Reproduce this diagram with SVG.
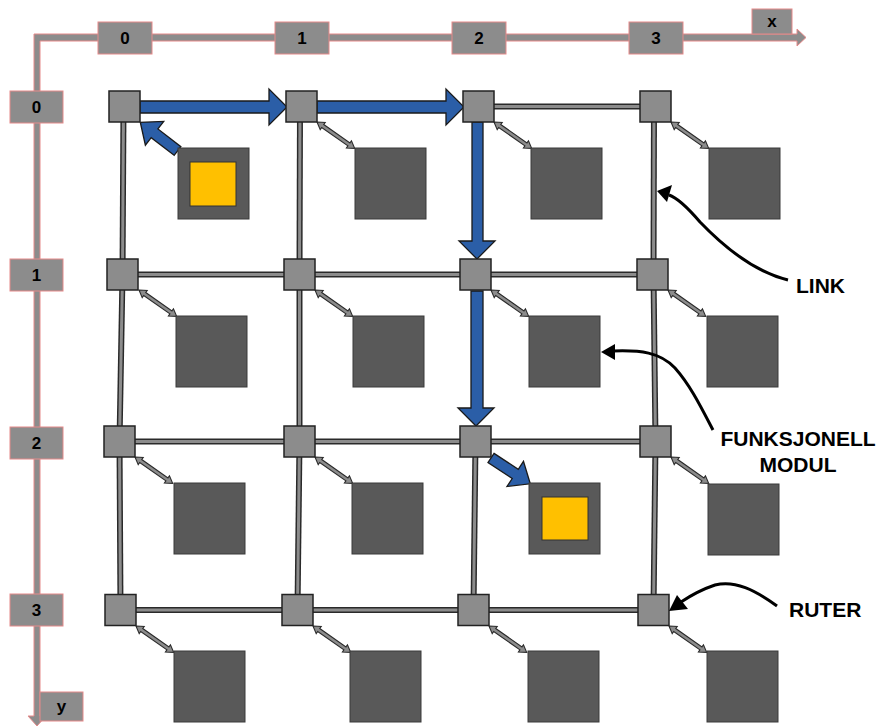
<svg xmlns="http://www.w3.org/2000/svg" xmlns:xlink="http://www.w3.org/1999/xlink" width="881" height="726" viewBox="0 0 881 726">
<style>
.axis{fill:#8c8c8c;stroke:#e58a8a;stroke-width:1}
.albl{font-family:"Liberation Sans",Arial,sans-serif;font-weight:bold;font-size:17px;fill:#000;text-anchor:middle}
.router{fill:#8c8c8c;stroke:#222;stroke-width:1.5}
.module{fill:#595959;stroke:#3a3a3a;stroke-width:1}
.yellow{fill:#ffc000;stroke:#333;stroke-width:1}
.lo{stroke:#2a2a2a;stroke-width:6;fill:none}
.li{stroke:#8c8c8c;stroke-width:3;fill:none}
.blue{fill:#2b5ea7;stroke:#1a1a1a;stroke-width:1.3;stroke-linejoin:miter}
.ann{fill:none;stroke:#000;stroke-width:3}
.annh{fill:#000}
.note{font-family:"Liberation Sans",Arial,sans-serif;font-weight:bold;font-size:21px;fill:#000}
</style>
<defs>
<g id="dbl"><polygon transform="rotate(35)" points="0,0 7,-4.4 7,-1.8 39,-1.8 39,-4.4 46,0 39,4.4 39,1.8 7,1.8 7,4.4" fill="#8c8c8c" stroke="#2a2a2a" stroke-width="1.1"/></g>
<polygon id="barrow" points="0,-5.5 29,-5.5 29,-15 47,0 29,15 29,5.5 0,5.5"/>
</defs>
<rect width="881" height="726" fill="#fff"/>

<g id="axes">
<polygon class="axis" points="34,34 797,34 797,29 806,37.5 797,46 797,41 40,41 40,716 46,716 37,726 28,716 34,716"/>
<rect class="axis" x="98" y="22" width="54" height="32"/><text class="albl" x="125" y="44">0</text>
<rect class="axis" x="275" y="22" width="54" height="32"/><text class="albl" x="302" y="44">1</text>
<rect class="axis" x="452" y="22" width="54" height="32"/><text class="albl" x="479" y="44">2</text>
<rect class="axis" x="629" y="22" width="54" height="32"/><text class="albl" x="656" y="44">3</text>
<rect class="axis" x="752" y="9" width="40" height="25"/><text class="albl" x="772" y="27">x</text>
<rect class="axis" x="10" y="91" width="53" height="32"/><text class="albl" x="36.5" y="113">0</text>
<rect class="axis" x="10" y="259" width="53" height="32"/><text class="albl" x="36.5" y="281">1</text>
<rect class="axis" x="10" y="427" width="53" height="32"/><text class="albl" x="36.5" y="449">2</text>
<rect class="axis" x="10" y="594" width="53" height="32"/><text class="albl" x="36.5" y="616">3</text>
<rect class="axis" x="40" y="692" width="43" height="29"/><text class="albl" x="61.5" y="712">y</text>
</g>

<g id="connectors">
<g class="lo">
<line x1="478.5" y1="106.5" x2="655.5" y2="106.5"/>
<line x1="122.5" y1="274.5" x2="652.5" y2="274.5"/>
<line x1="119.5" y1="441.5" x2="655.5" y2="441.5"/>
<line x1="120.5" y1="610" x2="653.5" y2="610"/>
<line x1="123.5" y1="106.5" x2="122.5" y2="274.5"/>
<line x1="122.5" y1="274.5" x2="119.5" y2="441.5"/>
<line x1="119.5" y1="441.5" x2="120.5" y2="610"/>
<line x1="300" y1="106.5" x2="299.5" y2="274.5"/>
<line x1="299.5" y1="274.5" x2="299.5" y2="441.5"/>
<line x1="299.5" y1="441.5" x2="297.5" y2="610"/>
<line x1="475.5" y1="441.5" x2="473.5" y2="610"/>
<line x1="654" y1="106.5" x2="653.5" y2="274.5"/>
<line x1="653.5" y1="274.5" x2="655.5" y2="441.5"/>
<line x1="655.5" y1="441.5" x2="653.5" y2="610"/>
</g>
<g class="li">
<line x1="478.5" y1="106.5" x2="655.5" y2="106.5"/>
<line x1="122.5" y1="274.5" x2="652.5" y2="274.5"/>
<line x1="119.5" y1="441.5" x2="655.5" y2="441.5"/>
<line x1="120.5" y1="610" x2="653.5" y2="610"/>
<line x1="123.5" y1="106.5" x2="122.5" y2="274.5"/>
<line x1="122.5" y1="274.5" x2="119.5" y2="441.5"/>
<line x1="119.5" y1="441.5" x2="120.5" y2="610"/>
<line x1="300" y1="106.5" x2="299.5" y2="274.5"/>
<line x1="299.5" y1="274.5" x2="299.5" y2="441.5"/>
<line x1="299.5" y1="441.5" x2="297.5" y2="610"/>
<line x1="475.5" y1="441.5" x2="473.5" y2="610"/>
<line x1="654" y1="106.5" x2="653.5" y2="274.5"/>
<line x1="653.5" y1="274.5" x2="655.5" y2="441.5"/>
<line x1="655.5" y1="441.5" x2="653.5" y2="610"/>
</g>
<use href="#dbl" x="317" y="122"/>
<use href="#dbl" x="494" y="122"/>
<use href="#dbl" x="671" y="122"/>
<use href="#dbl" x="139" y="290"/>
<use href="#dbl" x="315" y="290"/>
<use href="#dbl" x="491" y="290"/>
<use href="#dbl" x="668" y="290"/>
<use href="#dbl" x="135" y="457"/>
<use href="#dbl" x="315" y="457"/>
<use href="#dbl" x="671" y="457"/>
<use href="#dbl" x="136" y="626"/>
<use href="#dbl" x="313" y="626"/>
<use href="#dbl" x="489" y="626"/>
<use href="#dbl" x="669" y="626"/>
<polygon class="blue" points="140,101 269,101 269,89 287,107 269,125 269,113 140,113"/>
<polygon class="blue" points="317,101 446,101 446,89 464,107 446,125 446,113 317,113"/>
<polygon class="blue" points="472,122 483,122 483,241 495,241 477,259 459,241 472,241"/>
<polygon class="blue" points="471,291 483,291 483,408 494,408 476,426 458,408 471,408"/>
<use href="#barrow" class="blue" transform="translate(177.5,151) rotate(217.7)"/>
<use href="#barrow" class="blue" transform="translate(491,458) rotate(33.3)"/>
</g>

<g id="r00"><rect class="router" x="109" y="91" width="31" height="31"/></g>
<g id="r10"><rect class="router" x="286" y="91" width="31" height="31"/></g>
<g id="r20"><rect class="router" x="463" y="91" width="31" height="31"/></g>
<g id="r30"><rect class="router" x="640" y="91" width="31" height="31"/></g>
<g id="r01"><rect class="router" x="107" y="259" width="31" height="31"/></g>
<g id="r11"><rect class="router" x="284" y="259" width="31" height="31"/></g>
<g id="r21"><rect class="router" x="460" y="259" width="31" height="31"/></g>
<g id="r31"><rect class="router" x="637" y="259" width="31" height="31"/></g>
<g id="r02"><rect class="router" x="104" y="426" width="31" height="31"/></g>
<g id="r12"><rect class="router" x="284" y="426" width="31" height="31"/></g>
<g id="r22"><rect class="router" x="460" y="426" width="31" height="31"/></g>
<g id="r32"><rect class="router" x="640" y="426" width="31" height="31"/></g>
<g id="r03"><rect class="router" x="105" y="594.5" width="31" height="31"/></g>
<g id="r13"><rect class="router" x="282" y="594.5" width="31" height="31"/></g>
<g id="r23"><rect class="router" x="458" y="594.5" width="31" height="31"/></g>
<g id="r33"><rect class="router" x="638" y="594.5" width="31" height="31"/></g>

<g id="m00"><rect class="module" x="178" y="148" width="71" height="71"/><rect class="yellow" x="190" y="162" width="46" height="44"/></g>
<g id="m10"><rect class="module" x="355" y="148" width="71" height="71"/></g>
<g id="m20"><rect class="module" x="531" y="148" width="71" height="71"/></g>
<g id="m30"><rect class="module" x="709" y="148" width="71" height="71"/></g>
<g id="m01"><rect class="module" x="176" y="316" width="71" height="71"/></g>
<g id="m11"><rect class="module" x="353" y="316" width="71" height="71"/></g>
<g id="m21"><rect class="module" x="529" y="316" width="71" height="71"/></g>
<g id="m31"><rect class="module" x="707" y="316" width="71" height="71"/></g>
<g id="m02"><rect class="module" x="174" y="483" width="71" height="71"/></g>
<g id="m12"><rect class="module" x="352" y="483" width="71" height="71"/></g>
<g id="m22"><rect class="module" x="529" y="483" width="71" height="71"/><rect class="yellow" x="542" y="497" width="46" height="43"/></g>
<g id="m32"><rect class="module" x="708" y="484" width="71" height="71"/></g>
<g id="m03"><rect class="module" x="174" y="651" width="71" height="71"/></g>
<g id="m13"><rect class="module" x="350" y="651" width="71" height="71"/></g>
<g id="m23"><rect class="module" x="528" y="651" width="71" height="71"/></g>
<g id="m33"><rect class="module" x="707" y="651" width="71" height="71"/></g>

<g id="label-link">
<path class="ann" d="M788,280 C755,272 725,248 700,222 C688,208 678,198 669,195"/>
<polygon class="annh" points="657,191 672,185 667,202"/>
<text class="note" x="796" y="293">LINK</text>
</g>
<g id="label-modul">
<path class="ann" d="M713,430 C700,405 690,385 675,368 C660,352 640,350 613,351"/>
<polygon class="annh" points="601,352 615,344 615,360"/>
<text class="note" x="798" y="446" text-anchor="middle">FUNKSJONELL</text>
<text class="note" x="798" y="472" text-anchor="middle">MODUL</text>
</g>
<g id="label-ruter">
<path class="ann" d="M777,606 C755,590 735,580 715,585 C700,590 690,596 681,602"/>
<polygon class="annh" points="669,611 677,595 688,609"/>
<text class="note" x="789" y="617">RUTER</text>
</g>
</svg>
